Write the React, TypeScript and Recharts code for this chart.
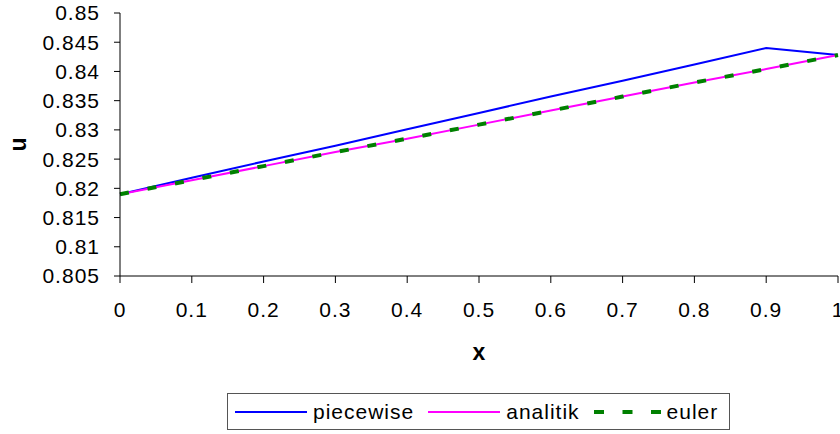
import React from "react";
import { LineChart, Line, XAxis, YAxis, Legend } from "recharts";

const xValues = [0, 0.1, 0.2, 0.3, 0.4, 0.5, 0.6, 0.7, 0.8, 0.9, 1];
const piecewise = [0.819, 0.8218, 0.8246, 0.8273, 0.8301, 0.8329, 0.8357, 0.8384, 0.8412, 0.844, 0.8428];
const analitik = [0.819, 0.8214, 0.8238, 0.8262, 0.8285, 0.8309, 0.8333, 0.8357, 0.8381, 0.8404, 0.8428];
const euler = [0.819, 0.8214, 0.8238, 0.8262, 0.8285, 0.8309, 0.8333, 0.8357, 0.8381, 0.8404, 0.8428];

const xTicks = [0, 0.1, 0.2, 0.3, 0.4, 0.5, 0.6, 0.7, 0.8, 0.9, 1];
const yTicks = [0.805, 0.81, 0.815, 0.82, 0.825, 0.83, 0.835, 0.84, 0.845, 0.85];

const data = xValues.map((x, i) => ({
  x,
  piecewise: piecewise[i],
  analitik: analitik[i],
  euler: euler[i],
}));

const FONT = "'Liberation Sans', Arial, sans-serif";
const tickStyle = { fontSize: 21, fill: "#000", fontFamily: FONT, letterSpacing: 1 };

function LegendBox() {
  const item = (sample: React.ReactNode, label: string, last = false) => (
    <div style={{ display: "flex", alignItems: "center", marginRight: last ? 0 : 14 }}>
      {sample}
      <span style={{ marginLeft: 6 }}>{label}</span>
    </div>
  );
  return (
    <div
      style={{
        boxSizing: "border-box",
        width: 503,
        height: 37,
        border: "1px solid #555",
        display: "flex",
        alignItems: "center",
        paddingLeft: 7,
        fontFamily: FONT,
        fontSize: 21,
        letterSpacing: 1,
        color: "#000",
        background: "#fff",
      }}
    >
      {item(
        <svg width={72} height={6}>
          <line x1={0} y1={3} x2={72} y2={3} stroke="#0000ff" strokeWidth={2} />
        </svg>,
        "piecewise"
      )}
      {item(
        <svg width={72} height={6}>
          <line x1={0} y1={3} x2={72} y2={3} stroke="#ff00ff" strokeWidth={2} />
        </svg>,
        "analitik"
      )}
      {item(
        <svg width={67} height={6}>
          <line x1={0} y1={3} x2={67} y2={3} stroke="#008000" strokeWidth={4} strokeDasharray="10 18.5" />
        </svg>,
        "euler",
        true
      )}
    </div>
  );
}

export default function App() {
  return (
    <div style={{ position: "absolute", left: 0, top: 0, width: 840, height: 434, background: "#fff" }}>
      <LineChart width={840} height={434} data={data} margin={{ top: 13, right: 2, left: 0, bottom: 108 }}>
        <XAxis
          dataKey="x"
          type="number"
          domain={[0, 1]}
          ticks={xTicks}
          tick={tickStyle}
          tickSize={7}
          tickMargin={19}
          height={50}
          stroke="#000"
          interval={0}
          label={({ viewBox }: any) => (
            <text
              x={viewBox.x + viewBox.width / 2}
              y={viewBox.y + 84}
              textAnchor="middle"
              fontFamily={FONT}
              fontWeight="bold"
              fontSize={23}
              fill="#000"
            >
              x
            </text>
          )}
        />
        <YAxis
          type="number"
          domain={[0.805, 0.85]}
          ticks={yTicks}
          tick={tickStyle}
          tickSize={6}
          tickMargin={14}
          width={120}
          stroke="#000"
          interval={0}
          label={({ viewBox }: any) => {
            const cx = 18;
            const cy = viewBox.y + viewBox.height / 2;
            return (
              <text
                x={cx}
                y={cy}
                transform={`rotate(-90 ${cx} ${cy})`}
                textAnchor="middle"
                dominantBaseline="central"
                fontFamily={FONT}
                fontWeight="bold"
                fontSize={23}
                fill="#000"
              >
                u
              </text>
            );
          }}
        />
        <Legend
          layout="horizontal"
          verticalAlign="middle"
          align="center"
          wrapperStyle={{ position: "absolute", left: 227, top: 393, width: 503, height: 37 }}
          content={() => <LegendBox />}
        />
        <Line
          type="linear"
          dataKey="piecewise"
          stroke="#0000ff"
          strokeWidth={2}
          dot={false}
          isAnimationActive={false}
        />
        <Line
          type="linear"
          dataKey="analitik"
          stroke="#ff00ff"
          strokeWidth={2}
          dot={false}
          isAnimationActive={false}
        />
        <Line
          type="linear"
          dataKey="euler"
          stroke="#008000"
          strokeWidth={4}
          strokeDasharray="9 19"
          dot={false}
          isAnimationActive={false}
        />
      </LineChart>
    </div>
  );
}
